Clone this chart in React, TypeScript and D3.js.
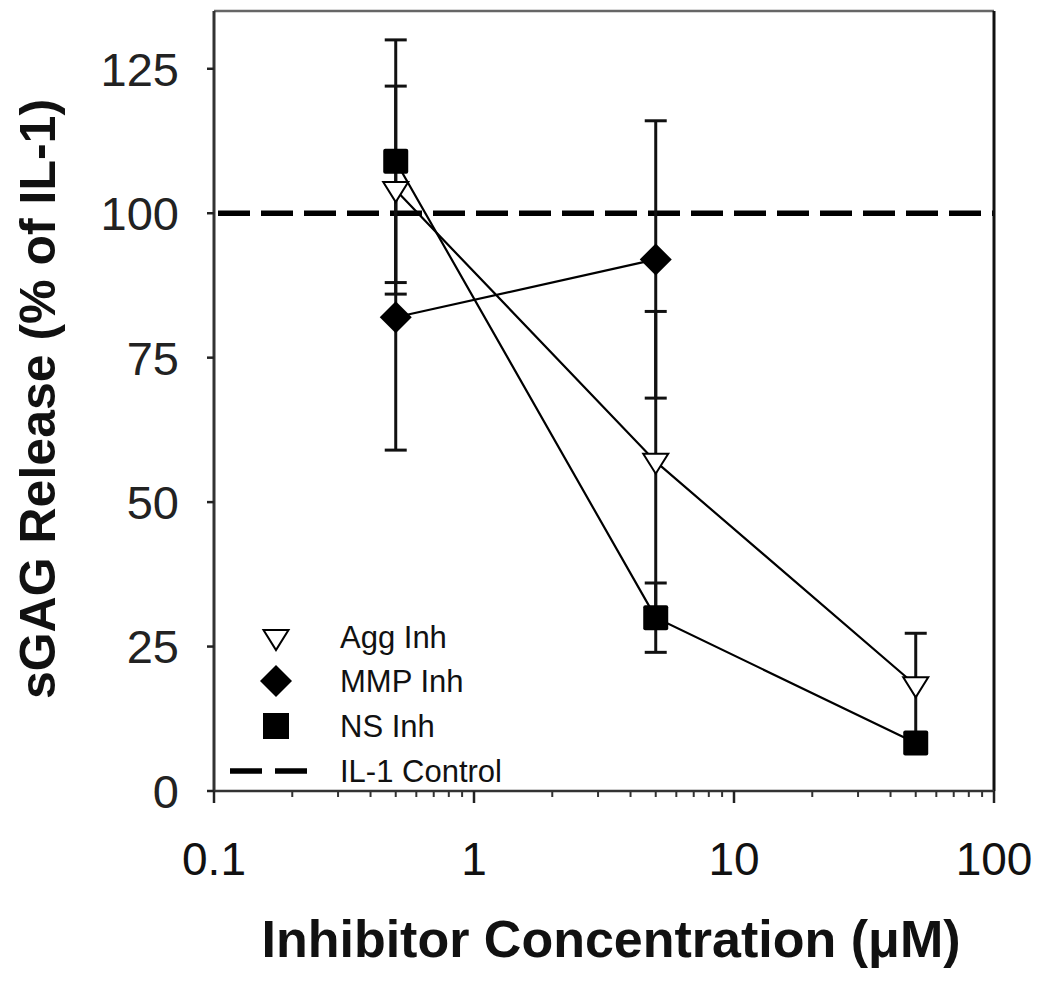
import React from "react";
import * as d3 from "d3";

const concentrations = [0.5, 5, 50];
const aggMean = [104, 57, 18.3];
const aggErr = [18, 26, 9];
const mmpConc = [0.5, 5];
const mmpMean = [82, 92];
const mmpErr = [23, 24];
const nsMean = [109, 30, 8.3];
const nsErr = [21, 6, 1.5];
const controlValue = 100;
const yTicks = [0, 25, 50, 75, 100, 125];
const xMajorTicks = [0.1, 1, 10, 100];
const xTickLabels = ["0.1", "1", "10", "100"];
const legendLabels = ["Agg Inh", "MMP Inh", "NS Inh", "IL-1 Control"];

const W = 1050;
const H = 997;
const M = { left: 214, right: 994, top: 11, bottom: 791 };

export default function App() {
  const x = d3.scaleLog().domain([0.1, 100]).range([M.left, M.right]);
  const y = d3.scaleLinear().domain([0, 135]).range([M.bottom, M.top]);

  const minorTicks: number[] = [];
  [0.1, 1, 10].forEach((d) => {
    for (let k = 2; k <= 9; k++) minorTicks.push(d * k);
  });

  const line = d3
    .line<[number, number]>()
    .x((d) => x(d[0]))
    .y((d) => y(d[1]));

  const aggPts = concentrations.map((c, i) => [c, aggMean[i]] as [number, number]);
  const mmpPts = mmpConc.map((c, i) => [c, mmpMean[i]] as [number, number]);
  const nsPts = concentrations.map((c, i) => [c, nsMean[i]] as [number, number]);

  const errBars: { c: number; m: number; e: number }[] = [];
  concentrations.forEach((c, i) => errBars.push({ c, m: aggMean[i], e: aggErr[i] }));
  mmpConc.forEach((c, i) => errBars.push({ c, m: mmpMean[i], e: mmpErr[i] }));
  concentrations.forEach((c, i) => errBars.push({ c, m: nsMean[i], e: nsErr[i] }));

  const tri = (cx: number, cy: number, s = 1) =>
    `M${cx - 12.5 * s},${cy - 8 * s} L${cx + 12.5 * s},${cy - 8 * s} L${cx},${cy + 12 * s} Z`;
  const diamond = (cx: number, cy: number, r = 16) =>
    `M${cx},${cy - r} L${cx + r},${cy} L${cx},${cy + r} L${cx - r},${cy} Z`;

  const legendX = 276;
  const legendYs = [637, 681, 726, 771];
  const font = "Arial, 'Liberation Sans', Helvetica, sans-serif";

  return (
    <svg
      width={W}
      height={H}
      style={{ position: "absolute", left: 0, top: 0, background: "#fff" }}
      fontFamily={font}
    >
      <rect x={0} y={0} width={W} height={H} fill="#fff" />
      {/* control dashed line */}
      <line
        x1={M.left}
        x2={M.right}
        y1={y(controlValue)}
        y2={y(controlValue)}
        stroke="#000"
        strokeWidth={5.5}
        strokeDasharray="32 11"
        strokeDashoffset={-4}
      />
      {/* error bars */}
      {errBars.map((b, i) => (
        <g key={"e" + i} stroke="#111" strokeWidth={3}>
          <line x1={x(b.c)} x2={x(b.c)} y1={y(b.m - b.e)} y2={y(b.m + b.e)} />
          <line x1={x(b.c) - 11} x2={x(b.c) + 11} y1={y(b.m + b.e)} y2={y(b.m + b.e)} />
          <line x1={x(b.c) - 11} x2={x(b.c) + 11} y1={y(b.m - b.e)} y2={y(b.m - b.e)} />
        </g>
      ))}
      {/* lines */}
      <path d={line(aggPts) || ""} fill="none" stroke="#000" strokeWidth={2.2} />
      <path d={line(mmpPts) || ""} fill="none" stroke="#000" strokeWidth={2.2} />
      <path d={line(nsPts) || ""} fill="none" stroke="#000" strokeWidth={2.2} />
      {/* markers */}
      {aggPts.map((p, i) => (
        <path key={"a" + i} d={tri(x(p[0]), y(p[1]))} fill="#fff" stroke="#000" strokeWidth={2} />
      ))}
      {mmpPts.map((p, i) => (
        <path key={"m" + i} d={diamond(x(p[0]), y(p[1]))} fill="#000" />
      ))}
      {nsPts.map((p, i) => (
        <rect key={"n" + i} x={x(p[0]) - 12.5} y={y(p[1]) - 12.5} width={25} height={25} rx={2} fill="#000" />
      ))}
      {/* frame */}
      <line x1={M.left} x2={M.right} y1={M.top} y2={M.top} stroke="#666" strokeWidth={2.5} />
      <line x1={M.right} x2={M.right} y1={M.top} y2={M.bottom} stroke="#111" strokeWidth={3} />
      <line x1={M.left} x2={M.left} y1={M.top} y2={M.bottom + 1} stroke="#333" strokeWidth={3} />
      <line x1={M.left} x2={M.right} y1={M.bottom} y2={M.bottom} stroke="#333" strokeWidth={2.5} />
      {/* y ticks */}
      {yTicks.map((t) => (
        <g key={"yt" + t}>
          <line x1={M.left - 7} x2={M.left} y1={y(t)} y2={y(t)} stroke="#222" strokeWidth={2.5} />
          <text x={179} y={y(t)} dy="0.36em" textAnchor="end" fontSize={47} fill="#222">
            {t}
          </text>
        </g>
      ))}
      {/* x ticks */}
      {xMajorTicks.map((t, i) => (
        <g key={"xt" + t}>
          <line x1={x(t)} x2={x(t)} y1={M.bottom} y2={M.bottom + 12} stroke="#222" strokeWidth={2.5} />
          <text x={x(t)} y={875} textAnchor="middle" fontSize={46} fill="#111">
            {xTickLabels[i]}
          </text>
        </g>
      ))}
      {minorTicks.map((t) => (
        <line key={"mt" + t} x1={x(t)} x2={x(t)} y1={M.bottom} y2={M.bottom + 6} stroke="#333" strokeWidth={2} />
      ))}
      {/* axis titles */}
      <text
        transform={`translate(55,399) rotate(-90)`}
        textAnchor="middle"
        fontSize={50}
        fontWeight="bold"
        fill="#111"
      >
        sGAG Release (% of IL-1)
      </text>
      <text x={611} y={957} textAnchor="middle" fontSize={52} fontWeight="bold" fill="#111">
        Inhibitor Concentration (μM)
      </text>
      {/* legend */}
      <path d={tri(legendX, legendYs[0] + 1)} fill="#fff" stroke="#000" strokeWidth={2} />
      <path d={diamond(legendX, legendYs[1], 16)} fill="#000" />
      <rect x={legendX - 13} y={legendYs[2] - 13} width={26} height={26} fill="#000" />
      <line x1={230} x2={307} y1={legendYs[3]} y2={legendYs[3]} stroke="#000" strokeWidth={5.5} strokeDasharray="32 13" />
      {legendLabels.map((l, i) => (
        <text key={l} x={340} y={legendYs[i]} dy="0.36em" fontSize={31} fill="#111">
          {l}
        </text>
      ))}
    </svg>
  );
}
